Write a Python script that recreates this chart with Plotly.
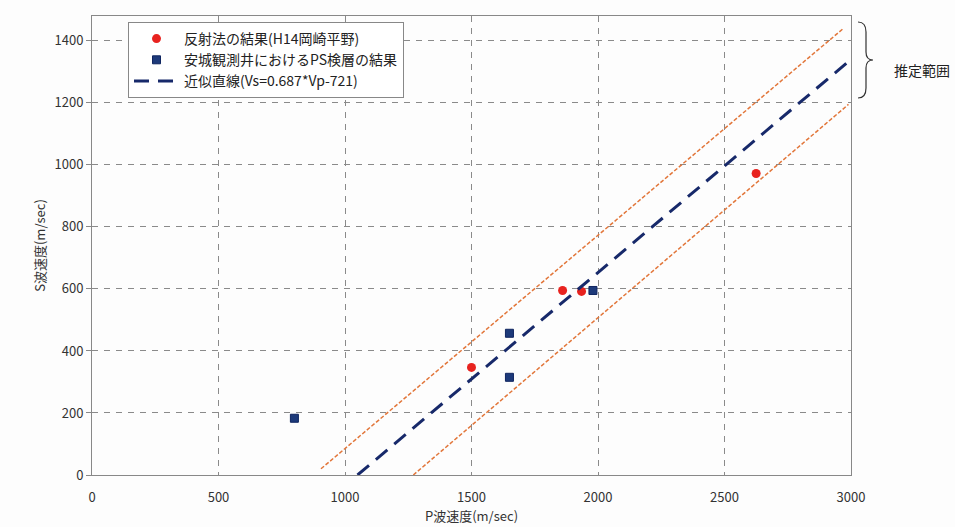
import plotly.graph_objects as go

# Data
refl_vp = [1500, 1860, 1935, 2625]
refl_vs = [347, 595, 592, 972]
ps_vp = [800, 1650, 1650, 1980]
ps_vs = [183, 457, 315, 595]
fit_a = 0.687
fit_b = -721
fit_vp = [-fit_b / fit_a, 3000]
fit_vs = [fit_a * v + fit_b for v in fit_vp]
upper_vp = [905, 2970]
upper_vs = [20, 1440]
lower_vp = [1270, 2990]
lower_vs = [0, 1195]

x_ticks = [0, 500, 1000, 1500, 2000, 2500, 3000]
y_ticks = [0, 200, 400, 600, 800, 1000, 1200, 1400]

FONT = "Noto Sans CJK JP, Noto Sans, sans-serif"

fig = go.Figure()
fig.add_trace(go.Scatter(x=upper_vp, y=upper_vs, mode="lines", showlegend=False,
                         line=dict(color="#e2763a", width=1.5, dash="4px,2px")))
fig.add_trace(go.Scatter(x=lower_vp, y=lower_vs, mode="lines", showlegend=False,
                         line=dict(color="#e2763a", width=1.5, dash="4px,2px")))
fig.add_trace(go.Scatter(x=refl_vp, y=refl_vs, mode="markers", name="反射法の結果(H14岡崎平野)",
                         marker=dict(symbol="circle", size=9, color="#e8231f")))
fig.add_trace(go.Scatter(x=ps_vp, y=ps_vs, mode="markers", name="安城観測井におけるPS検層の結果",
                         marker=dict(symbol="square", size=8, color="#1d3a7a",
                                     line=dict(color="#0f2560", width=1))))
fig.add_trace(go.Scatter(x=fit_vp, y=fit_vs, mode="lines", name="近似直線(Vs=0.687*Vp-721)",
                         line=dict(color="#17296a", width=3, dash="15px,9px")))

L, R, T, B = 92, 104, 16, 52
W, H = 955, 527
pw, ph = W - L - R, H - T - B

def px(x):
    return (x - L) / pw

def py(y):
    return (H - B - y) / ph

brace = ("M {a},{b} Q {c},{b} {c},{d} L {c},{e} Q {c},{f} {g},{f} "
         "Q {c},{f} {c},{h} L {c},{i} Q {c},{j} {a},{j}").format(
    a=px(858), b=py(22), c=px(866), d=py(32), e=py(52), f=py(60), g=px(873),
    h=py(68), i=py(88), j=py(98))

fig.update_layout(
    width=W, height=H,
    margin=dict(l=L, r=R, t=T, b=B),
    paper_bgcolor="#fdfdfd", plot_bgcolor="#fdfdfd",
    font=dict(family=FONT, size=13, color="#333333"),
    xaxis=dict(range=[0, 3000], tickvals=x_ticks, showgrid=True, gridcolor="#8a8a8a",
               griddash="6px,6px", gridwidth=1, zeroline=False, showline=True,
               linecolor="#888888", mirror=True, ticks="outside", ticklen=10,
               tickcolor="rgba(0,0,0,0)", automargin=False,
               title=dict(text="P波速度(m/sec)", standoff=4, font=dict(size=13)),
               tickfont=dict(size=13)),
    yaxis=dict(range=[0, 1480], tickvals=y_ticks, showgrid=True, gridcolor="#8a8a8a",
               griddash="6px,6px", gridwidth=1, zeroline=False, showline=True,
               linecolor="#888888", mirror=True, ticks="outside", ticklen=5,
               tickcolor="#888888", automargin=False,
               title=dict(text="S波速度(m/sec)", standoff=5, font=dict(size=13)),
               tickfont=dict(size=13)),
    legend=dict(x=px(128), y=py(22), xanchor="left", yanchor="top",
                bgcolor="#ffffff", bordercolor="#888888", borderwidth=1,
                font=dict(size=14, color="#222222"), tracegroupgap=0,
                itemwidth=45),
    shapes=[dict(type="path", path=brace, xref="paper", yref="paper",
                 line=dict(color="#333333", width=1.2))],
    annotations=[dict(text="推定範囲", x=px(892), y=py(58), xref="paper", yref="paper",
                      xanchor="left", showarrow=False, font=dict(size=14, color="#222222"))],
)

fig.write_html("out.html")
